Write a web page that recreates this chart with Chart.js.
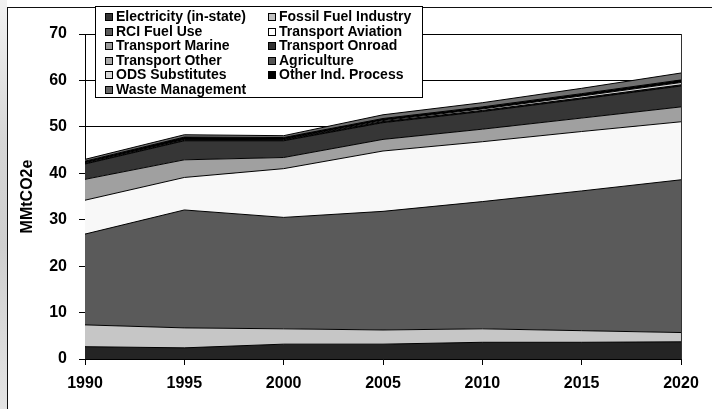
<!DOCTYPE html>
<html>
<head>
<meta charset="utf-8">
<script src="https://cdn.jsdelivr.net/npm/chart.js@4/dist/chart.umd.min.js"></script>
<style>
  html, body { margin: 0; padding: 0; background: #ffffff; }
  body { width: 712px; height: 409px; position: relative; overflow: hidden; }
  #strip { position: absolute; left: 0; top: 0; width: 7px; height: 409px;
    background: linear-gradient(to bottom, #f2f2f2 0%, #d6d6d6 35%, #cfcfcf 60%, #e4e4e4 100%); }
  #frame { position: absolute; left: 7px; top: 7px; width: 720px; height: 420px;
    border-left: 1px solid #111; border-top: 1px solid #111; box-sizing: border-box; background: #fff; }
  #c { position: absolute; left: 0; top: 0; }
</style>
</head>
<body>
<div id="strip"></div>
<div id="frame"></div>
<canvas id="c" width="712" height="409"></canvas>
<script>
// ---- data ----
const years = ['1990', '1995', '2000', '2005', '2010', '2015', '2020'];
const seriesNames = [
  'Electricity (in-state)', 'Fossil Fuel Industry', 'RCI Fuel Use', 'Transport Aviation',
  'Transport Marine', 'Transport Onroad', 'Transport Other', 'Agriculture',
  'ODS Substitutes', 'Other Ind. Process', 'Waste Management'
];
const electricity        = [2.65, 2.4, 3.2, 3.2, 3.6, 3.6, 3.7];
const fossilFuelIndustry = [4.7, 4.3, 3.3, 3.05, 2.9, 2.5, 2.0];
const rciFuelUse         = [19.55, 25.4, 24.0, 25.55, 27.4, 30.1, 32.9];
const transportAviation  = [7.3, 7.0, 10.5, 13.0, 12.9, 12.8, 12.5];
const transportMarine    = [4.5, 3.8, 2.4, 2.5, 2.7, 2.9, 3.2];
const transportOnroad    = [3.3, 4.1, 3.6, 3.6, 3.8, 4.1, 4.5];
const transportOther     = [0.1, 0.1, 0.1, 0.1, 0.1, 0.1, 0.1];
const agriculture        = [0.2, 0.2, 0.15, 0.15, 0.15, 0.15, 0.15];
const odsSubstitutes     = [0.0, 0.05, 0.1, 0.2, 0.3, 0.4, 0.5];
const otherIndProcess    = [0.3, 0.45, 0.35, 0.45, 0.45, 0.5, 0.55];
const wasteManagement    = [0.4, 0.5, 0.4, 0.8, 0.9, 1.15, 1.5];
const yTicks = [0, 10, 20, 30, 40, 50, 60, 70];

const seriesValues = [electricity, fossilFuelIndustry, rciFuelUse, transportAviation,
  transportMarine, transportOnroad, transportOther, agriculture, odsSubstitutes,
  otherIndProcess, wasteManagement];
const fills = ['#242424', '#c6c6c6', '#5a5a5a', '#f8f8f8', '#a0a0a0', '#363636',
  '#b4b4b4', '#4a4a4a', '#dcdcdc', '#000000', '#707070'];
const swatches = ['#333333', '#c0c0c0', '#5a5a5a', '#ffffff', '#9a9a9a', '#333333',
  '#aaaaaa', '#555555', '#d8d8d8', '#000000', '#666666'];

const FONT = "'Liberation Sans', Arial, Helvetica, sans-serif";

const datasets = seriesValues.map((vals, i) => ({
  label: seriesNames[i],
  data: vals,
  backgroundColor: fills[i],
  borderColor: '#000000',
  borderWidth: 1,
  pointRadius: 0,
  pointHoverRadius: 0,
  tension: 0,
  fill: i === 0 ? 'origin' : '-1'
}));

const legendPlugin = {
  id: 'boxLegend',
  afterDraw(chart) {
    const ctx = chart.ctx;
    ctx.save();
    ctx.fillStyle = '#ffffff';
    ctx.fillRect(95, 6, 328, 92);
    ctx.strokeStyle = '#000000';
    ctx.lineWidth = 1;
    ctx.strokeRect(95.5, 6.5, 327, 91);
    ctx.font = 'bold 14px ' + FONT;
    ctx.textBaseline = 'middle';
    ctx.textAlign = 'left';
    const colX = [105, 268];
    const rowY0 = 17, rowDy = 14.5;
    chart.data.datasets.forEach((ds, i) => {
      const col = i % 2, row = Math.floor(i / 2);
      const x = colX[col], y = rowY0 + row * rowDy;
      ctx.fillStyle = swatches[i];
      ctx.fillRect(x, Math.round(y - 4), 8, 8);
      ctx.strokeStyle = '#000';
      ctx.strokeRect(x + 0.5, Math.round(y - 4) + 0.5, 7, 7);
      ctx.fillStyle = '#000';
      ctx.fillText(ds.label, x + 11, y + 0.5);
    });
    ctx.restore();
  },
  afterDatasetsDraw(chart) {
    const {ctx, chartArea} = chart;
    ctx.save();
    ctx.strokeStyle = '#333';
    ctx.lineWidth = 1;
    const x = Math.round(chartArea.right) + 0.5;
    ctx.beginPath();
    ctx.moveTo(x, chartArea.top);
    ctx.lineTo(x, chartArea.bottom);
    ctx.stroke();
    ctx.restore();
  }
};

new Chart(document.getElementById('c'), {
  type: 'line',
  data: { labels: years, datasets },
  options: {
    responsive: false,
    animation: false,
    devicePixelRatio: 1,
    layout: { padding: { left: 0, top: 34, right: 31, bottom: 0 } },
    plugins: {
      legend: { display: false },
      tooltip: { enabled: false },
      filler: { propagate: false }
    },
    scales: {
      x: {
        type: 'category',
        offset: false,
        grid: { drawOnChartArea: false, drawTicks: true, tickLength: 6, color: '#000' },
        border: { display: true, color: '#000', width: 1 },
        ticks: {
          color: '#000', autoSkip: false, maxRotation: 0, padding: 9,
          font: { family: FONT, size: 16, weight: 'bold' }
        },
        afterFit(scale) { scale.height = 50; }
      },
      y: {
        stacked: true,
        min: 0, max: 70,
        afterBuildTicks(scale) { scale.ticks = yTicks.map(v => ({ value: v })); },
        grid: { color: '#000', lineWidth: 1, drawTicks: true, tickLength: 6 },
        border: { display: true, color: '#000', width: 1 },
        ticks: {
          color: '#000', padding: 12,
          font: { family: FONT, size: 16, weight: 'bold' }
        },
        title: {
          display: true, text: 'MMtCO2e', color: '#000',
          font: { family: FONT, size: 16, weight: 'bold' },
          padding: { top: 18, bottom: 0 }
        },
        afterFit(scale) { scale.width = 85; }
      }
    }
  },
  plugins: [legendPlugin]
});
</script>
</body>
</html>
